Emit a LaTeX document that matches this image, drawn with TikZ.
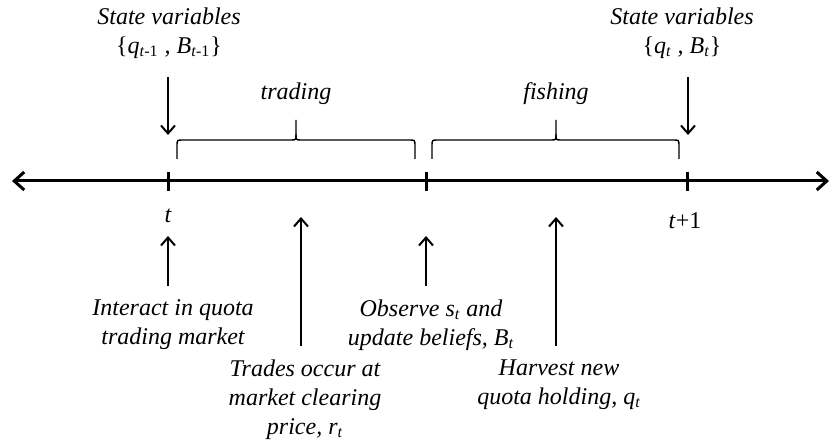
\documentclass[tikz,border=0pt,12pt]{standalone}
\usepackage{fontspec}
\setmainfont{Liberation Serif}
\usetikzlibrary{arrows.meta}
\newcommand{\tsub}[1]{\textsubscript{#1}}

\begin{document}
\begin{tikzpicture}[x=0.5pt,y=-0.5pt,
  lbl/.style={font=\itshape,align=center,inner sep=0pt},
  evt/.style={line width=1pt,-{Straight Barb[length=4pt,width=7pt]}},
  tickmark/.style={line width=1.5pt},
  bracket/.style={line width=0.7pt}]
\useasboundingbox (0,0) rectangle (832,444);

% time line
\coordinate (left) at (12,181);
\coordinate (right) at (829,181);
\draw [line width=1.5pt,{Straight Barb[length=5pt,width=9pt]}-{Straight Barb[length=5pt,width=9pt]}] (left) -- (right);
\foreach \x/\n in {168/t0,426/mid,687/t1} {
  \draw [tickmark] (\x,172) -- (\x,191);
  \coordinate (\n) at (\x,181);
}
\node [lbl,anchor=base] (tnow) at (168,223) {t};
\node [lbl,anchor=base] (tnext) at (685,229) {t\textup{+1}};

% state variables
\node [lbl,anchor=north] (state0) at (169,7) {State variables\\ \textup{\{}q\tsub{t\textup{-1}} , B\tsub{t\textup{-1}}\textup{\}}};
\node [lbl,anchor=north] (state1) at (682,7) {State variables\\ \textup{\{}q\tsub{t} , B\tsub{t}\textup{\}}};
\coordinate (s0top) at (168,77);
\coordinate (s0bot) at (168,135);
\coordinate (s1top) at (688,77);
\coordinate (s1bot) at (688,135);
\draw [evt] (s0top) -- (s0bot);
\draw [evt] (s1top) -- (s1bot);

% periods
\foreach \a/\m/\b in {177/296/415,432/556/679} {
  \draw [bracket] (\a,159) -- (\a,146) .. controls (\a,140) .. (\a+6,140) -- (\m-5,140) .. controls (\m,140) .. (\m,134) -- (\m,120);
  \draw [bracket] (\b,159) -- (\b,146) .. controls (\b,140) .. (\b-6,140) -- (\m+5,140) .. controls (\m,140) .. (\m,134);
}
\node [lbl,anchor=base] (trading) at (296,100) {trading};
\node [lbl,anchor=base] (fishing) at (556,100) {fishing};

% events
\node [lbl,anchor=north] (interact) at (173,299) {Interact in quota\\ trading market};
\node [lbl,anchor=north] (trades) at (305,359) {Trades occur at\\ market clearing\\ price, r\tsub{t}};
\node [lbl,anchor=north] (observe) at (431,299) {Observe s\tsub{t} and\\ update beliefs, B\tsub{t}};
\node [lbl,anchor=north] (harvest) at (559,359) {Harvest new\\ quota holding, q\tsub{t}};
\coordinate (e1a) at (168,286);
\coordinate (e1b) at (168,236);
\coordinate (e2a) at (301,346);
\coordinate (e2b) at (301,217);
\coordinate (e3a) at (426,286);
\coordinate (e3b) at (426,236);
\coordinate (e4a) at (556,346);
\coordinate (e4b) at (556,217);
\draw [evt] (e1a) -- (e1b);
\draw [evt] (e2a) -- (e2b);
\draw [evt] (e3a) -- (e3b);
\draw [evt] (e4a) -- (e4b);
\end{tikzpicture}
\end{document}
